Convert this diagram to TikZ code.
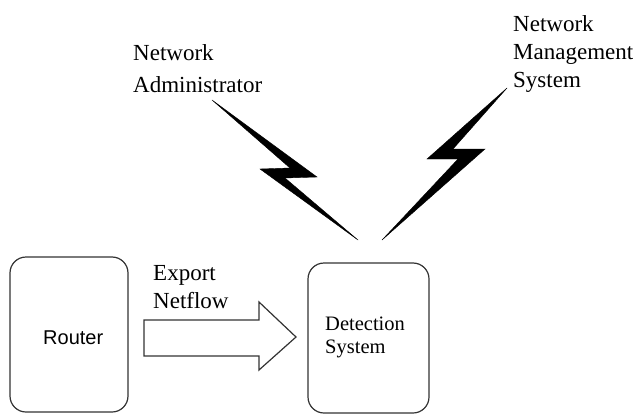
\documentclass[tikz,border=0pt]{standalone}
\usepackage{fontspec}
\setmainfont{Liberation Serif}
\newfontfamily\arialfont{Liberation Sans}
\begin{document}
\begin{tikzpicture}[x=1pt,y=-1pt,
  box/.style={draw=black!80,line width=1.2pt,rounded corners=16pt},
  lbl/.style={anchor=base west,inner sep=0pt,font=\fontsize{23}{28}\selectfont},
  dlbl/.style={anchor=base west,inner sep=0pt,font=\fontsize{20.5}{24}\selectfont},
  bolt/.style={fill=black,draw=black,line width=0.4pt,line join=miter}]
\useasboundingbox (0,0) rectangle (639,417);
% boxes
\draw[box] (10,257) rectangle (128,412);
\draw[box] (308,263) rectangle (429,413);
\node[anchor=base west,inner sep=0pt,font=\arialfont\fontsize{20}{24}\selectfont] (router) at (43,344) {Router};
\node[dlbl] (det1) at (325,330) {Detection};
\node[dlbl] (det2) at (325,353) {System};
% block arrow
\draw[draw=black!80,line width=1.2pt,line join=miter,fill=white] (144,320) -- (259,320) -- (259,302) -- (296,337) -- (259,370) -- (259,356) -- (144,356) -- cycle;
\node[lbl] (exp1) at (153,280) {Export};
\node[lbl] (exp2) at (153,308) {Netflow};
% top labels
\node[lbl] (na1) at (133,61) {Network};
\node[lbl] (na2) at (133,93) {Administrator};
\node[lbl] (nm1) at (513,32) {Network};
\node[lbl] (nm2) at (513,60) {Management};
\node[lbl] (nm3) at (513,88) {System};
% lightning bolts
\fill[bolt] (212,100) -- (317,177) -- (285,178) -- (358,240) -- (260,169) -- (290,168) -- cycle;
\fill[bolt] (507,88) -- (453,149) -- (485,149) -- (382,240) -- (458,159) -- (427,159) -- cycle;
\end{tikzpicture}
\end{document}
